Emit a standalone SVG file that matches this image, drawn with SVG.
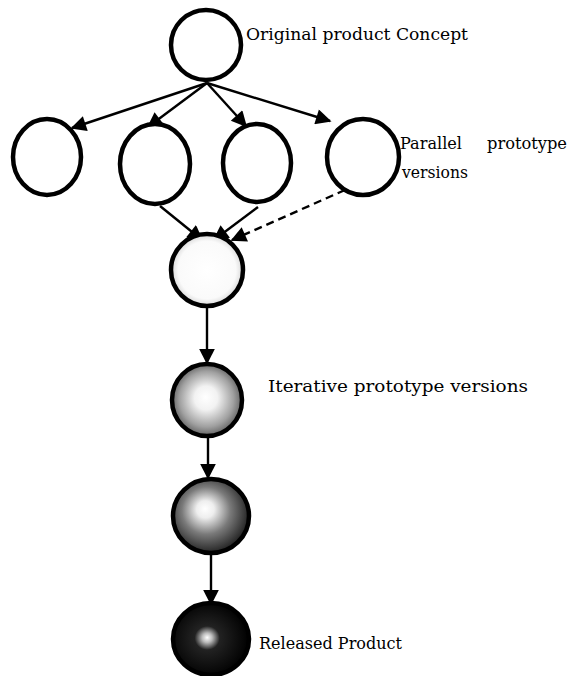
<svg xmlns="http://www.w3.org/2000/svg" width="572" height="676" viewBox="0 0 572 676">
  <style>
    .node { stroke: #000; stroke-width: 4.5; }
    .plain { fill: #fff; }
    .label { font-family: "DejaVu Serif", "Liberation Serif", serif; font-size: 17px; fill: #000; }
    .edge { stroke: #000; stroke-width: 2.4; fill: none; marker-end: url(#head); }
    .dash { stroke-dasharray: 8 5; }
  </style>
  <defs>
    <marker id="head" viewBox="0 0 10 10" refX="9" refY="5" markerWidth="7.5" markerHeight="6.5" orient="auto" markerUnits="strokeWidth">
      <path d="M0,0 L10,5 L0,10 Z" fill="#000"/>
    </marker>
    <radialGradient id="faint" cx="0.5" cy="0.5" r="0.5">
      <stop offset="0" stop-color="#fff"/>
      <stop offset="0.8" stop-color="#fafafa"/>
      <stop offset="1" stop-color="#d8d8d8"/>
    </radialGradient>
    <radialGradient id="light" cx="0.5" cy="0.5" r="0.55" fx="0.48" fy="0.46">
      <stop offset="0" stop-color="#fff"/>
      <stop offset="0.3" stop-color="#f2f2f2"/>
      <stop offset="0.7" stop-color="#a0a0a0"/>
      <stop offset="1" stop-color="#4a4a4a"/>
    </radialGradient>
    <radialGradient id="mid" cx="0.45" cy="0.45" r="0.58" fx="0.42" fy="0.4">
      <stop offset="0" stop-color="#fff"/>
      <stop offset="0.2" stop-color="#eee"/>
      <stop offset="0.55" stop-color="#7a7a7a"/>
      <stop offset="1" stop-color="#1a1a1a"/>
    </radialGradient>
    <radialGradient id="dark" cx="0.45" cy="0.5" r="0.55" fx="0.45" fy="0.48">
      <stop offset="0" stop-color="#fff"/>
      <stop offset="0.12" stop-color="#bbb"/>
      <stop offset="0.3" stop-color="#222"/>
      <stop offset="1" stop-color="#000"/>
    </radialGradient>
  </defs>

  <g id="connectors">
    <line class="edge" x1="207" y1="83" x2="72" y2="128"/>
    <line class="edge" x1="207" y1="83" x2="148" y2="127"/>
    <line class="edge" x1="207" y1="83" x2="246" y2="126"/>
    <line class="edge" x1="207" y1="83" x2="330" y2="121"/>
    <line class="edge" x1="160" y1="206" x2="202" y2="240"/>
    <line class="edge" x1="258" y1="207" x2="214" y2="240"/>
    <line class="edge dash" x1="345" y1="190" x2="232" y2="240"/>
    <line class="edge" x1="207" y1="307" x2="207" y2="363"/>
    <line class="edge" x1="208" y1="437" x2="208" y2="478"/>
    <line class="edge" x1="211" y1="553" x2="211" y2="604"/>
  </g>

  <g id="concept">
    <ellipse class="node plain" cx="206" cy="45" rx="35" ry="35"/>
    <text class="label" x="246" y="40" textLength="222" lengthAdjust="spacingAndGlyphs">Original product Concept</text>
  </g>
  <g id="parallel-1">
    <ellipse class="node plain" cx="47" cy="157" rx="34" ry="38"/>
  </g>
  <g id="parallel-2">
    <ellipse class="node plain" cx="155" cy="164" rx="35" ry="40"/>
  </g>
  <g id="parallel-3">
    <ellipse class="node plain" cx="257" cy="163" rx="34" ry="39"/>
  </g>
  <g id="parallel-4">
    <ellipse class="node plain" cx="363" cy="157" rx="36" ry="38"/>
    <text class="label" x="400" y="149" textLength="62" lengthAdjust="spacingAndGlyphs">Parallel</text>
    <text class="label" x="487" y="149" textLength="80" lengthAdjust="spacingAndGlyphs">prototype</text>
    <text class="label" x="402" y="178" textLength="66" lengthAdjust="spacingAndGlyphs">versions</text>
  </g>
  <g id="merged">
    <ellipse class="node" fill="url(#faint)" cx="207" cy="270" rx="36" ry="36"/>
  </g>
  <g id="iterative-1">
    <ellipse class="node" fill="url(#light)" cx="207" cy="400" rx="35" ry="36"/>
    <text class="label" x="268" y="392" textLength="260" lengthAdjust="spacingAndGlyphs">Iterative prototype versions</text>
  </g>
  <g id="iterative-2">
    <ellipse class="node" fill="url(#mid)" cx="211" cy="516" rx="38" ry="37"/>
  </g>
  <g id="released">
    <ellipse class="node" fill="url(#dark)" cx="211" cy="639" rx="38" ry="36"/>
    <text class="label" x="259" y="649" textLength="143" lengthAdjust="spacingAndGlyphs">Released Product</text>
  </g>
</svg>
